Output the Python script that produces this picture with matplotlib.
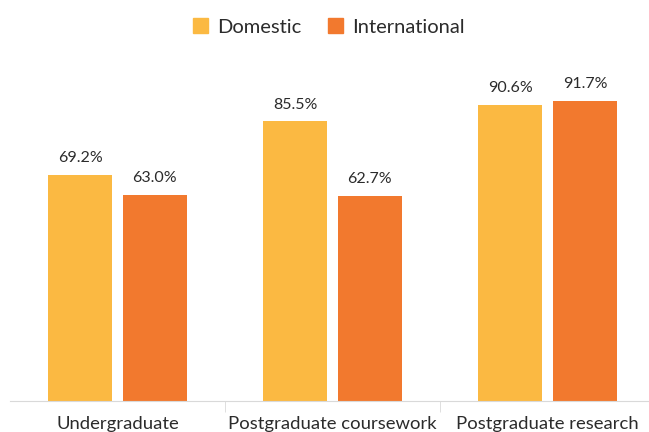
import matplotlib
matplotlib.use("Agg")
import matplotlib.pyplot as plt
import numpy as np
from matplotlib.patches import Patch

categories = ["Undergraduate", "Postgraduate coursework", "Postgraduate research"]
domestic = [69.2, 85.5, 90.6]
international = [63.0, 62.7, 91.7]
series_names = ["Domestic", "International"]

c_dom = "#FBB942"
c_int = "#F2792E"

plt.rcParams['font.family'] = ['Lato', 'DejaVu Sans']

fig = plt.figure(figsize=(6.49, 4.32), dpi=100)
ax = fig.add_axes([10/649, 31/432, 645/649, (401-74)/432])

x = np.arange(len(categories))
w = 0.298
off = 0.174
b1 = ax.bar(x - off, domestic, w, color=c_dom)
b2 = ax.bar(x + off, international, w, color=c_int)

for bars, vals in ((b1, domestic), (b2, international)):
    for b, v in zip(bars, vals):
        ax.annotate(f"{v:.1f}%", (b.get_x() + b.get_width()/2, v),
                    xytext=(0, 7), textcoords="offset points",
                    ha="center", va="bottom", fontsize=11.5, color="#2b2b2b")

ax.set_xlim(-0.5, 2.5)
ax.set_ylim(0, 100)
for s in ["top", "right", "left"]:
    ax.spines[s].set_visible(False)
ax.spines["bottom"].set_color("#d9d9d9")
ax.set_yticks([])
ax.set_xticks(x)
ax.set_xticklabels(categories, fontsize=13.3, color="#2b2b2b")
ax.tick_params(axis="x", length=0, pad=11)
ax.set_xticks([0.5, 1.5], minor=True)
ax.tick_params(axis="x", which="minor", length=8, color="#d9d9d9")

handles = [Patch(color=c_dom), Patch(color=c_int)]
fig.legend(handles, series_names, loc="center", bbox_to_anchor=(329/649, 1 - 27/432),
           ncol=2, frameon=False, fontsize=14.5, handlelength=0.75, handleheight=0.75,
           handletextpad=0.45, columnspacing=1.3, labelcolor="#2b2b2b")

fig.savefig("out.png", dpi=100)
